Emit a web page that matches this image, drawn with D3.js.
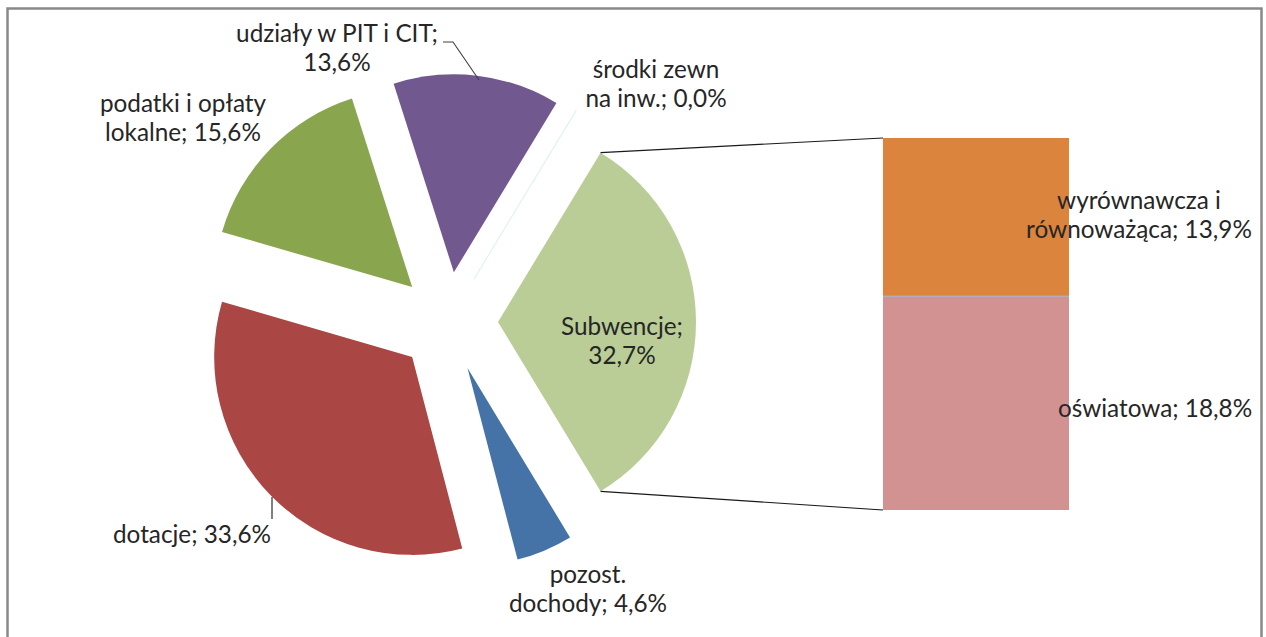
<!DOCTYPE html>
<html><head><meta charset="utf-8">
<script src="https://cdn.jsdelivr.net/npm/d3@7"></script>
<style>
html,body{margin:0;padding:0;background:#fff;}
svg{display:block;}
text{font-family:Lato,"Open Sans",sans-serif;font-size:24.3px;fill:#262626;}
</style></head>
<body>
<svg id="chart" width="1266" height="637"></svg>
<script>
// ---- data ----
const pieCategories = ["Subwencje|", "pozost.|dochody", "dotacje", "podatki i opłaty|lokalne", "udziały w PIT i CIT|", "środki zewn|na inw."];
const pieValues = [32.7, 4.6, 33.6, 15.6, 13.6, 0.0];
const barCategories = ["wyrównawcza i|równoważąca", "oświatowa"];
const barValues = [13.9, 18.8];

// ---- styles / layout ----
const pieColors = ["#bacd97", "#4572a7", "#aa4643", "#89a54e", "#71588f", "#e0f2f2"];
const barColors = ["#db843d", "#d29292"];
const cx = 448, cy = 322, R = 198, explode = 50;
const pieLabelPos = [[622, 335], [588, 583], [192, 543], [183, 112], [337, 42], [656, 78]];
const barX = 883, barW = 186, barTop = 138, barBottom = 510;
const barLabelPos = [[1139, 209], [1155, 417]];
const lineH = 29;

const fmt = v => d3.format(".1f")(v).replace(".", ",") + "%";
function labelLines(name, v) {
  const s = name + "; " + fmt(v);
  return s.replace("|; ", ";|").split("|");
}

const svg = d3.select("#chart");

// frame
svg.append("rect").attr("x", 7.5).attr("y", 8.5).attr("width", 1254).attr("height", 700)
  .attr("fill", "none").attr("stroke", "#898989").attr("stroke-width", 2.5);

// pie
const total = d3.sum(pieValues);
const half = pieValues[0] / total * Math.PI;
const pie = d3.pie().sort(null).value(d => d)
  .startAngle(Math.PI / 2 - half).endAngle(Math.PI / 2 - half + 2 * Math.PI);
const arcs = pie(pieValues);
const arc = d3.arc().innerRadius(0).outerRadius(R);

const g = svg.append("g").attr("transform", `translate(${cx},${cy})`);
const offs = arcs.map(a => {
  const m = (a.startAngle + a.endAngle) / 2;
  return [explode * Math.sin(m), -explode * Math.cos(m)];
});
arcs.forEach((a, i) => {
  if (a.value === 0) {
    const ang = a.startAngle;
    g.append("line")
      .attr("x1", offs[i][0]).attr("y1", offs[i][1])
      .attr("x2", offs[i][0] + R * Math.sin(ang)).attr("y2", offs[i][1] - R * Math.cos(ang))
      .attr("stroke", pieColors[i]).attr("stroke-width", 1.2);
  } else {
    g.append("path").attr("d", arc(a)).attr("fill", pieColors[i])
      .attr("transform", `translate(${offs[i][0]},${offs[i][1]})`);
  }
});

// bar of pie
const y = d3.scaleLinear().domain([0, d3.sum(barValues)]).range([barTop, barBottom]);
let acc = 0;
barValues.forEach((v, i) => {
  svg.append("rect").attr("x", barX).attr("width", barW)
    .attr("y", y(acc)).attr("height", y(acc + v) - y(acc)).attr("fill", barColors[i]);
  acc += v;
});
svg.append("line").attr("x1", barX).attr("x2", barX + barW)
  .attr("y1", y(barValues[0])).attr("y2", y(barValues[0]))
  .attr("stroke", "#9fb8d8").attr("stroke-width", 1);

// connector lines from Subwencje slice corners to the bar
const s0 = arcs[0];
const c1 = [cx + offs[0][0] + R * Math.sin(s0.startAngle), cy + offs[0][1] - R * Math.cos(s0.startAngle)];
const c2 = [cx + offs[0][0] + R * Math.sin(s0.endAngle), cy + offs[0][1] - R * Math.cos(s0.endAngle)];
svg.append("line").attr("x1", c1[0]).attr("y1", c1[1]).attr("x2", barX).attr("y2", y(0))
  .attr("stroke", "#1a1a1a").attr("stroke-width", 1.1);
svg.append("line").attr("x1", c2[0]).attr("y1", c2[1]).attr("x2", barX).attr("y2", y(d3.sum(barValues)))
  .attr("stroke", "#1a1a1a").attr("stroke-width", 1.1);

// leader lines
svg.append("polyline").attr("points", "443,42 453,42 479,80")
  .attr("fill", "none").attr("stroke", "#404040").attr("stroke-width", 1.1);
svg.append("line").attr("x1", 272).attr("y1", 497).attr("x2", 272).attr("y2", 519)
  .attr("stroke", "#555").attr("stroke-width", 1.5);

// pie labels
pieCategories.forEach((c, i) => {
  const lines = labelLines(c, pieValues[i]);
  const t = svg.append("text").attr("text-anchor", "middle");
  lines.forEach((l, k) => {
    t.append("tspan").attr("x", pieLabelPos[i][0]).attr("y", pieLabelPos[i][1] + k * lineH).text(l);
  });
});

// bar labels
barCategories.forEach((c, i) => {
  const lines = labelLines(c, barValues[i]);
  const t = svg.append("text").attr("text-anchor", "middle");
  lines.forEach((l, k) => {
    t.append("tspan").attr("x", barLabelPos[i][0]).attr("y", barLabelPos[i][1] + k * lineH).text(l);
  });
});
</script>
</body></html>
